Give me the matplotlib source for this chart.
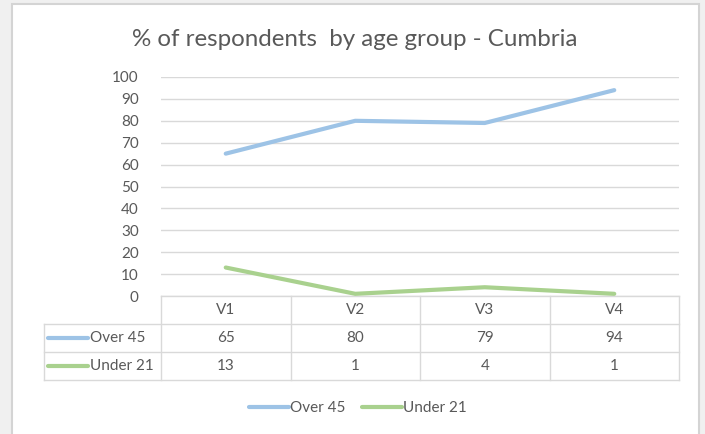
import matplotlib.pyplot as plt
import matplotlib.transforms as mtransforms
from matplotlib.lines import Line2D
from matplotlib.patches import Rectangle

categories = ['V1', 'V2', 'V3', 'V4']
over_45 = [65, 80, 79, 94]
under_21 = [13, 1, 4, 1]
series = [('Over 45', over_45, '#9dc3e6'), ('Under 21', under_21, '#a9d18e')]

text_color = '#595959'
grid_color = '#d9d9d9'
label_size = 11
plt.rcParams['font.family'] = ['Lato', 'DejaVu Sans']

W, H = 705, 434
fig = plt.figure(figsize=(W / 100, H / 100), dpi=100, facecolor='#f0f0f0')

# white chart area with a thin grey frame
fig.patches.append(Rectangle((12 / W, -0.05), (699 - 12) / W, 1 - 4 / H + 0.05,
                             transform=fig.transFigure, facecolor='white',
                             edgecolor='#d4d4d4', linewidth=1.5, zorder=-5))

fig.text(355 / W, 1 - 40 / H, '% of respondents  by age group - Cumbria',
         ha='center', va='center', fontsize=17.4, color=text_color)

left, right, top, bottom = 161, 679, 77, 296
ax = fig.add_axes([left / W, 1 - bottom / H, (right - left) / W, (bottom - top) / H])
ax.set_facecolor('none')
x = list(range(len(categories)))

handles = []
for name, vals, color in series:
    h, = ax.plot(x, vals, color=color, lw=3, solid_capstyle='round', zorder=3, label=name)
    handles.append(h)

ax.set_xlim(-0.5, len(categories) - 0.5)
ax.set_ylim(0, 100)
ax.set_yticks(range(0, 101, 10))
ax.set_xticks([])
ax.grid(axis='y', color=grid_color, lw=1)
ax.set_axisbelow(True)
for s in ax.spines.values():
    s.set_visible(False)
ax.tick_params(axis='y', length=0, pad=16, labelsize=label_size, labelcolor=text_color)

# data table under the plot
row_h = 28 / (bottom - top)
n_rows = len(series) + 1
xy_blend = mtransforms.blended_transform_factory(ax.transData, ax.transAxes)
first_col = (44 - left) / (right - left)
line_kw = dict(color=grid_color, lw=1, clip_on=False)

for r in range(n_rows + 1):
    y = -r * row_h
    x0 = 0 if r == 0 else first_col
    ax.add_line(Line2D([x0, 1], [y, y], transform=ax.transAxes, **line_kw))
for i in range(len(categories) + 1):
    ax.add_line(Line2D([i - 0.5, i - 0.5], [0, -n_rows * row_h], transform=xy_blend, **line_kw))
ax.add_line(Line2D([first_col, first_col], [-row_h, -n_rows * row_h],
                   transform=ax.transAxes, **line_kw))

for i, cat in enumerate(categories):
    ax.text(i, -0.5 * row_h, cat, transform=xy_blend, ha='center', va='center',
            fontsize=label_size, color=text_color)

key_x0 = (48 - left) / (right - left)
key_x1 = (88 - left) / (right - left)
for r, (name, vals, color) in enumerate(series, start=1):
    yc = -(r + 0.5) * row_h
    ax.add_line(Line2D([key_x0, key_x1], [yc, yc], transform=ax.transAxes, color=color,
                       lw=3, solid_capstyle='round', clip_on=False))
    ax.text(key_x1 + 0.003, yc, name, transform=ax.transAxes, ha='left', va='center',
            fontsize=label_size, color=text_color)
    for i, v in enumerate(vals):
        ax.text(i, yc, str(v), transform=xy_blend, ha='center', va='center',
                fontsize=label_size, color=text_color)

leg = fig.legend(handles=handles, loc='center', bbox_to_anchor=(358 / W, 1 - 408 / H),
                 ncol=2, frameon=False, fontsize=label_size, handlelength=2.6,
                 handletextpad=0.1, columnspacing=1.1, labelcolor=text_color)

fig.savefig('out.png', dpi=100, facecolor=fig.get_facecolor())
